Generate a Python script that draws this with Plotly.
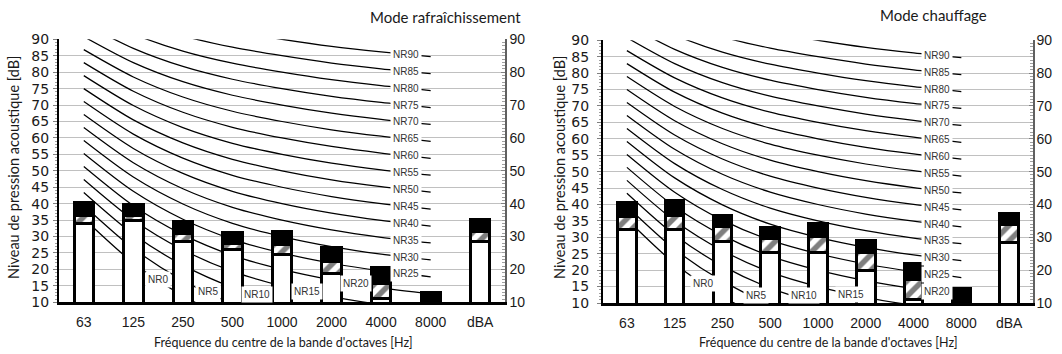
import plotly.graph_objects as go

# ---------------- data ----------------
bands = ["63", "125", "250", "500", "1000", "2000", "4000", "8000"]
categories = bands + ["dBA"]

# NR rating curves (dB per octave band)
nr_levels = [0, 5, 10, 15, 20, 25, 30, 35, 40, 45, 50, 55, 60, 65, 70, 75, 80, 85, 90]
nr_0 = [35.5, 22.0, 12.0, 4.8, 0.0, -3.5, -6.1, -8.0]
nr_5 = [39.45, 26.35, 16.65, 9.67, 5.0, 1.58, -0.98, -2.85]
nr_10 = [43.4, 30.7, 21.3, 14.54, 10.0, 6.65, 4.15, 2.3]
nr_15 = [47.35, 35.05, 25.95, 19.41, 15.0, 11.73, 9.28, 7.45]
nr_20 = [51.3, 39.4, 30.6, 24.28, 20.0, 16.8, 14.4, 12.6]
nr_25 = [55.25, 43.75, 35.25, 29.15, 25.0, 21.88, 19.53, 17.75]
nr_30 = [59.2, 48.1, 39.9, 34.02, 30.0, 26.95, 24.65, 22.9]
nr_35 = [63.15, 52.45, 44.55, 38.89, 35.0, 32.03, 29.78, 28.05]
nr_40 = [67.1, 56.8, 49.2, 43.76, 40.0, 37.1, 34.9, 33.2]
nr_45 = [71.05, 61.15, 53.85, 48.63, 45.0, 42.18, 40.03, 38.35]
nr_50 = [75.0, 65.5, 58.5, 53.5, 50.0, 47.25, 45.15, 43.5]
nr_55 = [78.95, 69.85, 63.15, 58.37, 55.0, 52.33, 50.28, 48.65]
nr_60 = [82.9, 74.2, 67.8, 63.24, 60.0, 57.4, 55.4, 53.8]
nr_65 = [86.85, 78.55, 72.45, 68.11, 65.0, 62.48, 60.53, 58.95]
nr_70 = [90.8, 82.9, 77.1, 72.98, 70.0, 67.55, 65.65, 64.1]
nr_75 = [94.75, 87.25, 81.75, 77.85, 75.0, 72.63, 70.78, 69.25]
nr_80 = [98.7, 91.6, 86.4, 82.72, 80.0, 77.7, 75.9, 74.4]
nr_85 = [102.65, 95.95, 91.05, 87.59, 85.0, 82.78, 81.03, 79.55]
nr_90 = [106.6, 100.3, 95.7, 92.46, 90.0, 87.85, 86.15, 84.7]
nr_curves = [nr_0, nr_5, nr_10, nr_15, nr_20, nr_25, nr_30, nr_35, nr_40, nr_45,
             nr_50, nr_55, nr_60, nr_65, nr_70, nr_75, nr_80, nr_85, nr_90]

# label position along each curve (category index) per panel
nr_label_pos_cool = [1.5, 2.5, 3.5, 4.5, 5.5] + [6.5] * 14
nr_label_pos_heat = [1.6, 2.7, 3.7, 4.7, 6.5] + [6.5] * 14

# Mode rafraîchissement: levels (white top, hatched top, total top)
cool_white = [34.0, 35.0, 28.5, 26.0, 24.5, 18.8, 11.3, 10.0, 28.5]
cool_hatch = [36.5, 36.5, 31.0, 28.0, 27.5, 22.3, 15.7, 10.0, 31.5]
cool_total = [40.3, 39.6, 34.7, 31.2, 31.5, 26.6, 20.5, 13.0, 35.2]

# Mode chauffage
heat_white = [32.5, 32.5, 28.8, 25.5, 25.5, 19.8, 11.0, 10.0, 28.5]
heat_hatch = [36.3, 36.6, 33.2, 29.5, 30.3, 25.4, 17.1, 10.0, 33.9]
heat_total = [40.5, 41.1, 36.6, 32.9, 34.1, 29.1, 21.9, 14.4, 37.4]

left_ticks = list(range(10, 95, 5))
right_ticks = list(range(10, 95, 10))

title_cool = "Mode rafraîchissement"
title_heat = "Mode chauffage"
x_title = "Fréquence du centre de la bande d'octaves [Hz]"
y_title = "Niveau de pression acoustique [dB]"

# ---------------- figure ----------------
W, H = 1062, 354
ARIAL = "Liberation Sans, Arial, sans-serif"
TICK_FONT = dict(family=ARIAL, size=14, color="#1a1a1a")
LTICK_FONT = dict(family="DejaVu Sans, sans-serif", size=14, color="#1a1a1a")
RTICK_FONT = dict(family=ARIAL, size=14, color="#1a1a1a")
TEXT_FONT = "Lato, Open Sans, sans-serif"

fig = go.Figure()

panels = [
    dict(x="x", y="y", xo="x3", yo="y3", white=cool_white, hatch=cool_hatch,
         total=cool_total, lab=nr_label_pos_cool, xdom=(59, 505), ydom=(302.3, 39.3),
         lstand=1, rstand=0),
    dict(x="x2", y="y2", xo="x4", yo="y4", white=heat_white, hatch=heat_hatch,
         total=heat_total, lab=nr_label_pos_heat, xdom=(603, 1033), ydom=(303.0, 40.3),
         lstand=5, rstand=-1),
]

annotations = []
for p in panels:
    for lvl, vals, pos in zip(nr_levels, nr_curves, p["lab"]):
        fig.add_trace(go.Scatter(
            x=bands, y=vals, mode="lines", xaxis=p["x"], yaxis=p["y"],
            line=dict(color="black", width=1.25, shape="spline", smoothing=0.8),
            hoverinfo="skip", showlegend=False))
        i = int(pos)
        f = pos - i
        ly = vals[i] + f * (vals[i + 1] - vals[i])
        ly = max(ly, 12.2)
        annotations.append(dict(
            x=pos, y=ly, xref=p["x"], yref=p["y"], text="NR%d" % lvl,
            xanchor="center", yanchor="middle",
            showarrow=False, bgcolor="white", borderpad=2,
            font=dict(family=ARIAL, size=10, color="#333333")))
    white_h = list(p["white"])
    hatch_h = [h - w for h, w in zip(p["hatch"], p["white"])]
    black_h = [t - h for t, h in zip(p["total"], p["hatch"])]
    common = dict(x=categories, xaxis=p["xo"], yaxis=p["yo"], width=0.39,
                  hoverinfo="skip", showlegend=False)
    fig.add_trace(go.Bar(y=white_h, marker=dict(color="white", line=dict(color="black", width=3)), **common))
    fig.add_trace(go.Bar(y=hatch_h, marker=dict(
        color="white", line=dict(color="black", width=3),
        pattern=dict(shape="/", fgcolor="black", bgcolor="white", size=11, solidity=0.5)), **common))
    fig.add_trace(go.Bar(y=black_h, marker=dict(color="black", line=dict(color="black", width=3)), **common))


def dom_x(a, b):
    return [a / W, b / W]


def dom_y(bottom, top):
    return [1 - bottom / H, 1 - top / H]


layout_axes = {}
for k, p in enumerate(panels):
    xn = "xaxis" if k == 0 else "xaxis2"
    yn = "yaxis" if k == 0 else "yaxis2"
    xo = "xaxis3" if k == 0 else "xaxis4"
    yo = "yaxis3" if k == 0 else "yaxis4"
    xd = dom_x(*p["xdom"])
    yd = dom_y(*p["ydom"])
    layout_axes[xn] = dict(
        domain=xd, anchor=p["y"], type="category", categoryorder="array",
        categoryarray=categories, range=[-0.5, 8.5], showgrid=False,
        showline=True, linecolor="black", linewidth=3, ticks="", tickfont=TICK_FONT,
        ticklabelstandoff=5, automargin=False, fixedrange=True)
    layout_axes[yn] = dict(
        domain=yd, anchor=p["x"], range=[10, 90], tickvals=left_ticks,
        showgrid=True, gridcolor="#c0c0c0", gridwidth=1, showline=True,
        linecolor="black", linewidth=2, ticks="outside", ticklen=4, tickcolor="#808080",
        minor=dict(dtick=1, ticks="outside", ticklen=2, tickcolor="#a0a0a0", showgrid=False),
        tickfont=LTICK_FONT, ticklabelstandoff=p["lstand"], zeroline=False,
        automargin=False, fixedrange=True)
    layout_axes[xo] = dict(
        overlaying=p["x"], anchor=p["yo"], type="category", categoryorder="array",
        categoryarray=categories, range=[-0.5, 8.5], visible=False,
        automargin=False, fixedrange=True)
    layout_axes[yo] = dict(
        overlaying=p["y"], anchor=p["xo"], side="right", range=[10, 90],
        tickvals=right_ticks, showgrid=False, showline=True, linecolor="#606060",
        linewidth=1.5, ticks="inside", ticklen=4, tickcolor="#808080",
        minor=dict(dtick=1, ticks="inside", ticklen=3, tickcolor="#a0a0a0"),
        tickfont=RTICK_FONT, ticklabelstandoff=p["rstand"], zeroline=False,
        automargin=False, fixedrange=True)

title_font = dict(family=TEXT_FONT, size=15, color="#1a1a1a")
axis_font = dict(family=TEXT_FONT, size=12.5, color="#1a1a1a")
yaxis_font = dict(family=TEXT_FONT, size=14.5, color="#1a1a1a")
annotations += [
    dict(x=523 / W, y=1 - 17 / H, xref="paper", yref="paper", xanchor="right", yanchor="middle",
         text=title_cool, showarrow=False, font=title_font),
    dict(x=933 / W, y=1 - 15 / H, xref="paper", yref="paper", xanchor="center", yanchor="middle",
         text=title_heat, showarrow=False, font=title_font),
    dict(x=283 / W, y=1 - 342 / H, xref="paper", yref="paper", xanchor="center", yanchor="middle",
         text=x_title, showarrow=False, font=axis_font),
    dict(x=828 / W, y=1 - 342 / H, xref="paper", yref="paper", xanchor="center", yanchor="middle",
         text=x_title, showarrow=False, font=axis_font),
    dict(x=13 / W, y=1 - 168 / H, xref="paper", yref="paper", xanchor="center", yanchor="middle",
         textangle=-90, text=y_title, showarrow=False, font=yaxis_font),
    dict(x=559 / W, y=1 - 168 / H, xref="paper", yref="paper", xanchor="center", yanchor="middle",
         textangle=-90, text=y_title, showarrow=False, font=yaxis_font),
]

fig.update_layout(
    width=W, height=H, margin=dict(l=0, r=0, t=0, b=0, autoexpand=False),
    paper_bgcolor="white", plot_bgcolor="white",
    barmode="stack", showlegend=False, annotations=annotations,
    **layout_axes)

fig.write_html("out.html", config={"displayModeBar": False},
               post_script="document.body.style.margin='0px';document.body.style.overflow='hidden';")
